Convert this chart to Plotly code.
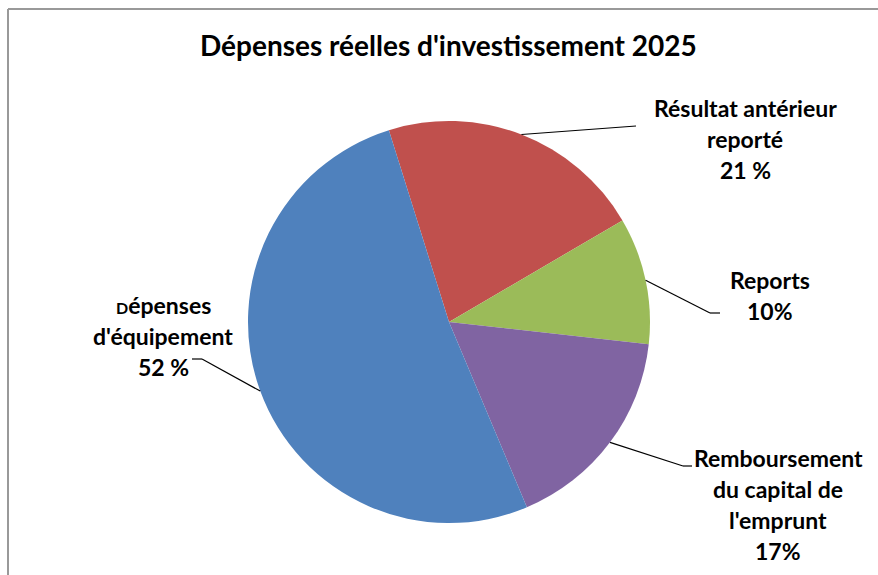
import math
import plotly.graph_objects as go

# ---- data ----
categories = ["Résultat antérieur reporté", "Reports",
              "Remboursement du capital de l'emprunt", "Dépenses d'équipement"]
values = [21.4, 10.2, 16.9, 51.5]
colors = ["#C0504D", "#9BBB59", "#8064A2", "#4F81BD"]
label_lines = [
    ["Résultat antérieur", "reporté", "21 %"],
    ["Reports", "10%"],
    ["Remboursement", "du capital de", "l'emprunt", "17%"],
    ['<span style="font-size:16px">D</span>épenses', "d'équipement", "52 %"],
]
title_text = "Dépenses réelles d'investissement 2025"

# ---- layout constants (pixels) ----
W, H = 878, 575
CX, CY, R = 449, 322, 201
ROT = -17.4
FONT = "Lato"
LABEL_SIZE = 23
LINE_STEP = 31
label_pos = [(745, 108), (770, 280), (778, 458), (163, 305)]   # centre x, first line y
elbows = [[(636, 126)], [(710, 313), (720, 313)],
          [(683, 466), (692, 466)], [(202, 359), (192, 359)]]


def px(x, y):
    return x / W, 1 - y / H


fig = go.Figure(go.Pie(
    labels=categories, values=values, sort=False, direction="clockwise",
    rotation=ROT, textinfo="none", hoverinfo="label+percent",
    marker=dict(colors=colors, line=dict(width=0)),
    domain=dict(x=[(CX - R) / W, (CX + R) / W],
                y=[1 - (CY + R) / H, 1 - (CY - R) / H]),
    showlegend=False,
))

annotations = []
shapes = []
total = sum(values)
cum = 0.0
for i, v in enumerate(values):
    mid = ROT + (cum + v / 2) / total * 360
    cum += v
    ax = CX + R * math.sin(math.radians(mid))
    ay = CY - R * math.cos(math.radians(mid))
    pts = [(ax, ay)] + elbows[i]
    for (x0, y0), (x1, y1) in zip(pts[:-1], pts[1:]):
        a0, b0 = px(x0, y0)
        a1, b1 = px(x1, y1)
        shapes.append(dict(type="line", xref="paper", yref="paper",
                           x0=a0, y0=b0, x1=a1, y1=b1,
                           line=dict(color="black", width=1.2)))
    lx, ly = label_pos[i]
    for j, line in enumerate(label_lines[i]):
        xx, yy = px(lx, ly + j * LINE_STEP)
        annotations.append(dict(text="<b>" + line + "</b>", x=xx, y=yy,
                                xref="paper", yref="paper", showarrow=False,
                                xanchor="center", yanchor="middle",
                                font=dict(family=FONT, size=LABEL_SIZE, color="black")))

# title
tx, ty = px(448, 45)
annotations.append(dict(text="<b>" + title_text + "</b>", x=tx, y=ty,
                        xref="paper", yref="paper", showarrow=False,
                        xanchor="center", yanchor="middle",
                        font=dict(family=FONT, size=28, color="black")))

# chart border (top and left visible)
bx, by = px(8, 9)
shapes.append(dict(type="line", xref="paper", yref="paper", x0=bx, y0=0, x1=bx, y1=by,
                   line=dict(color="#999999", width=2)))
shapes.append(dict(type="line", xref="paper", yref="paper", x0=bx, y0=by, x1=1, y1=by,
                   line=dict(color="#999999", width=2)))

fig.update_layout(width=W, height=H, margin=dict(l=0, r=0, t=0, b=0),
                  paper_bgcolor="white", plot_bgcolor="white",
                  annotations=annotations, shapes=shapes)
fig.write_html("out.html", config={"displayModeBar": False},
               post_script="document.body.style.margin='0';document.body.style.overflow='hidden';")
